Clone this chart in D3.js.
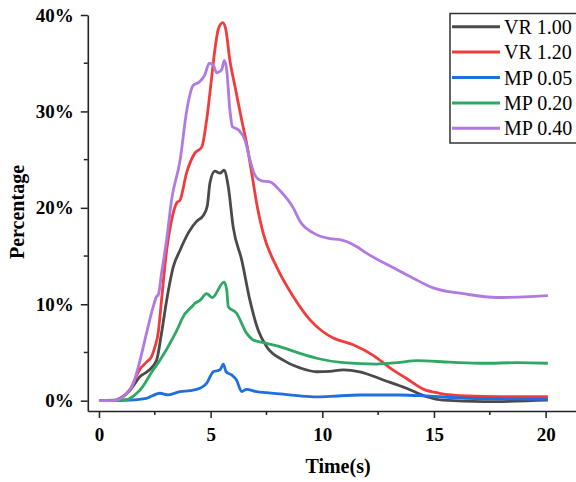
<!DOCTYPE html>
<html>
<head>
<meta charset="utf-8">
<script src="https://cdn.jsdelivr.net/npm/d3@7"></script>
<style>
  body { margin: 0; background: #fff; }
  text { font-family: "Liberation Serif", "Times New Roman", serif; }
</style>
</head>
<body>
<svg id="chart" width="576" height="482"></svg>
<script>
// series data: time (s) and percentage (%)
var vr100T = [0, 0.6, 1.0, 1.4, 1.84, 2.21, 2.58, 2.8, 3.03, 3.33, 3.63, 4.0, 4.37, 4.67, 4.85, 4.97, 5.19, 5.42, 5.6, 5.79, 6.01, 6.39, 6.76, 7.13, 7.51, 8.25, 9.0, 9.74, 10.34, 10.94, 11.68, 12.73, 13.77, 14.67, 15.41, 17.2, 20.1];
var vr100P = [0, 0, 0.3, 1.1, 2.5, 3.1, 4.2, 7.0, 10.4, 13.9, 15.6, 17.4, 18.6, 19.2, 20.2, 22.6, 23.8, 23.6, 23.9, 22.2, 18.0, 14.6, 10.4, 7.3, 5.6, 4.2, 3.4, 3.0, 3.05, 3.2, 3.0, 2.15, 1.29, 0.41, 0.05, -0.1, 0.05];

var vr120T = [0, 0.6, 1.0, 1.4, 1.84, 2.13, 2.36, 2.51, 2.65, 2.8, 3.03, 3.25, 3.48, 3.63, 3.92, 4.3, 4.6, 4.82, 5.05, 5.19, 5.34, 5.54, 5.68, 5.86, 6.09, 6.39, 6.61, 6.84, 7.09, 7.35, 7.95, 8.7, 9.44, 10.0, 10.49, 11.38, 12.28, 13.03, 13.77, 14.52, 15.26, 16.46, 17.95, 20.1];
var vr120P = [0, 0, 0.3, 1.2, 3.3, 4.0, 4.6, 5.6, 7.0, 10.4, 15.6, 18.7, 20.5, 20.8, 23.6, 25.7, 26.3, 29.1, 33.6, 36.4, 38.5, 39.2, 38.5, 35.3, 32.6, 29.1, 26.7, 23.6, 20.1, 17.4, 13.9, 10.8, 8.4, 7.2, 6.5, 5.8, 4.7, 3.4, 2.3, 1.2, 0.77, 0.49, 0.41, 0.41];

var mp005T = [0, 1.39, 2.13, 2.73, 3.1, 3.63, 4.08, 4.52, 4.82, 5.12, 5.42, 5.57, 5.69, 5.94, 6.16, 6.39, 6.61, 7.06, 7.51, 8.1, 9.0, 9.74, 10.34, 11.68, 13.47, 14.67, 16.46, 20.1];
var mp005P = [0, 0.07, 0.25, 0.77, 0.6, 0.94, 1.04, 1.29, 1.8, 3.0, 3.2, 3.8, 3.0, 2.67, 2.15, 0.94, 1.18, 0.94, 0.83, 0.7, 0.49, 0.4, 0.45, 0.59, 0.59, 0.49, 0.25, 0.15];

var mp020T = [0, 0.94, 1.24, 1.69, 1.84, 2.43, 2.73, 3.33, 3.63, 3.7, 4.22, 4.3, 4.52, 4.82, 5.07, 5.6, 5.72, 5.79, 6.16, 6.61, 6.91, 7.51, 8.1, 9.0, 9.74, 10.94, 12.43, 13.47, 14.22, 15.71, 17.2, 18.7, 20.1];
var mp020P = [0, 0.07, 0.1, 0.77, 1.1, 3.2, 4.2, 6.6, 8.0, 8.4, 9.9, 10.1, 10.4, 11.1, 10.7, 12.3, 11.5, 9.75, 9.07, 7.0, 6.3, 5.95, 5.6, 4.9, 4.4, 3.94, 3.8, 3.98, 4.15, 4.0, 3.88, 3.94, 3.88];

var mp040T = [0, 0.64, 1.09, 1.54, 1.84, 2.13, 2.43, 2.58, 2.66, 2.8, 3.03, 3.25, 3.63, 3.93, 4.22, 4.52, 4.74, 4.94, 5.12, 5.27, 5.49, 5.61, 5.72, 5.86, 5.98, 6.24, 6.54, 6.76, 6.98, 7.28, 7.65, 8.1, 8.7, 9.0, 9.59, 10.34, 10.79, 11.53, 11.98, 13.33, 14.07, 14.96, 16.31, 17.8, 19.29, 20.1];
var mp040P = [0, 0, 0.41, 1.8, 4.2, 7.0, 9.75, 10.8, 11.0, 13.2, 16.7, 20.8, 24.9, 30.1, 32.7, 33.1, 33.8, 35.0, 34.8, 34.0, 34.3, 35.3, 34.3, 30.2, 28.4, 28.1, 27.0, 25.0, 23.4, 22.8, 22.7, 21.8, 20.0, 18.6, 17.4, 16.8, 16.7, 16.0, 15.3, 13.6, 12.7, 11.7, 11.1, 10.7, 10.8, 10.9];

var seriesNames = ["VR 1.00", "VR 1.20", "MP 0.05", "MP 0.20", "MP 0.40"];
var seriesColors = ["#4a4a4a", "#f23c3c", "#1f6fe0", "#2fa864", "#b07ae0"];
var seriesT = [vr100T, vr120T, mp005T, mp020T, mp040T];
var seriesP = [vr100P, vr120P, mp005P, mp020P, mp040P];

var xTicks = [0, 5, 10, 15, 20];
var xMinor = [2.5, 7.5, 12.5, 17.5];
var yTicks = [0, 10, 20, 30, 40];
var yMinor = [5, 15, 25, 35];

var svg = d3.select('#chart');

var x = d3.scaleLinear().domain([-0.5, 21.4]).range([87.8, 576.9]);
var y = d3.scaleLinear().domain([-1.07, 40]).range([411, 15]);

// curves first, axes on top
var line = d3.line()
  .x(function(d) { return x(d[0]); })
  .y(function(d) { return y(d[1]); })
  .curve(d3.curveMonotoneX);

var data = seriesNames.map(function(name, i) {
  return {
    name: name,
    color: seriesColors[i],
    pts: seriesT[i].map(function(t, j) { return [t, seriesP[i][j]]; })
  };
});

svg.selectAll('path.series').data(data).enter().append('path')
  .attr('class', 'series')
  .attr('d', function(d) { return line(d.pts); })
  .attr('fill', 'none')
  .attr('stroke', function(d) { return d.color; })
  .attr('stroke-width', 2.8)
  .attr('stroke-linejoin', 'round');

// x axis
var xAxis = svg.append('g').attr('transform', 'translate(0,411)');
xAxis.call(d3.axisBottom(x).tickValues(xTicks).tickSizeInner(7).tickSizeOuter(0).tickPadding(10).tickFormat(d3.format('d')));
xAxis.selectAll('.tick.minor').data(xMinor).enter().append('line')
  .attr('x1', function(d) { return x(d); }).attr('x2', function(d) { return x(d); })
  .attr('y1', 0).attr('y2', 4).attr('stroke', '#222').attr('stroke-width', 1.5);

// y axis
var yAxis = svg.append('g').attr('transform', 'translate(87.8,0)');
yAxis.call(d3.axisLeft(y).tickValues(yTicks).tickSizeInner(7).tickSizeOuter(0).tickPadding(7).tickFormat(function(d) { return d + '%'; }));
yAxis.selectAll('.tick.minor').data(yMinor).enter().append('line')
  .attr('y1', function(d) { return y(d); }).attr('y2', function(d) { return y(d); })
  .attr('x1', 0).attr('x2', -4).attr('stroke', '#222').attr('stroke-width', 1.5);

svg.selectAll('.domain').attr('stroke', '#222').attr('stroke-width', 1.6);
svg.selectAll('.tick line').attr('stroke', '#222').attr('stroke-width', 1.5);
svg.selectAll('.tick text')
  .attr('fill', '#000')
  .style('font-family', '"Liberation Serif", "Times New Roman", serif')
  .style('font-size', '19px')
  .style('font-weight', 'bold');

// axis titles
svg.append('text').attr('x', 338).attr('y', 473)
  .attr('text-anchor', 'middle')
  .style('font-size', '20px').style('font-weight', 'bold')
  .text('Time(s)');

svg.append('text')
  .attr('transform', 'translate(24,212) rotate(-90)')
  .attr('text-anchor', 'middle')
  .style('font-size', '20px').style('font-weight', 'bold')
  .text('Percentage');

// legend
var legend = svg.append('g');
legend.append('rect')
  .attr('x', 450).attr('y', 13.5).attr('width', 140).attr('height', 129.5)
  .attr('fill', '#fff').attr('stroke', '#333').attr('stroke-width', 1.5);

var rows = legend.selectAll('g.row').data(data).enter().append('g')
  .attr('class', 'row')
  .attr('transform', function(d, i) { return 'translate(0,' + (26.7 + i * 25.4) + ')'; });
rows.append('line')
  .attr('x1', 452).attr('x2', 500).attr('y1', 0).attr('y2', 0)
  .attr('stroke', function(d) { return d.color; }).attr('stroke-width', 3);
rows.append('text')
  .attr('x', 504).attr('y', 7)
  .style('font-size', '20px')
  .text(function(d) { return d.name; });
</script>
</body>
</html>
